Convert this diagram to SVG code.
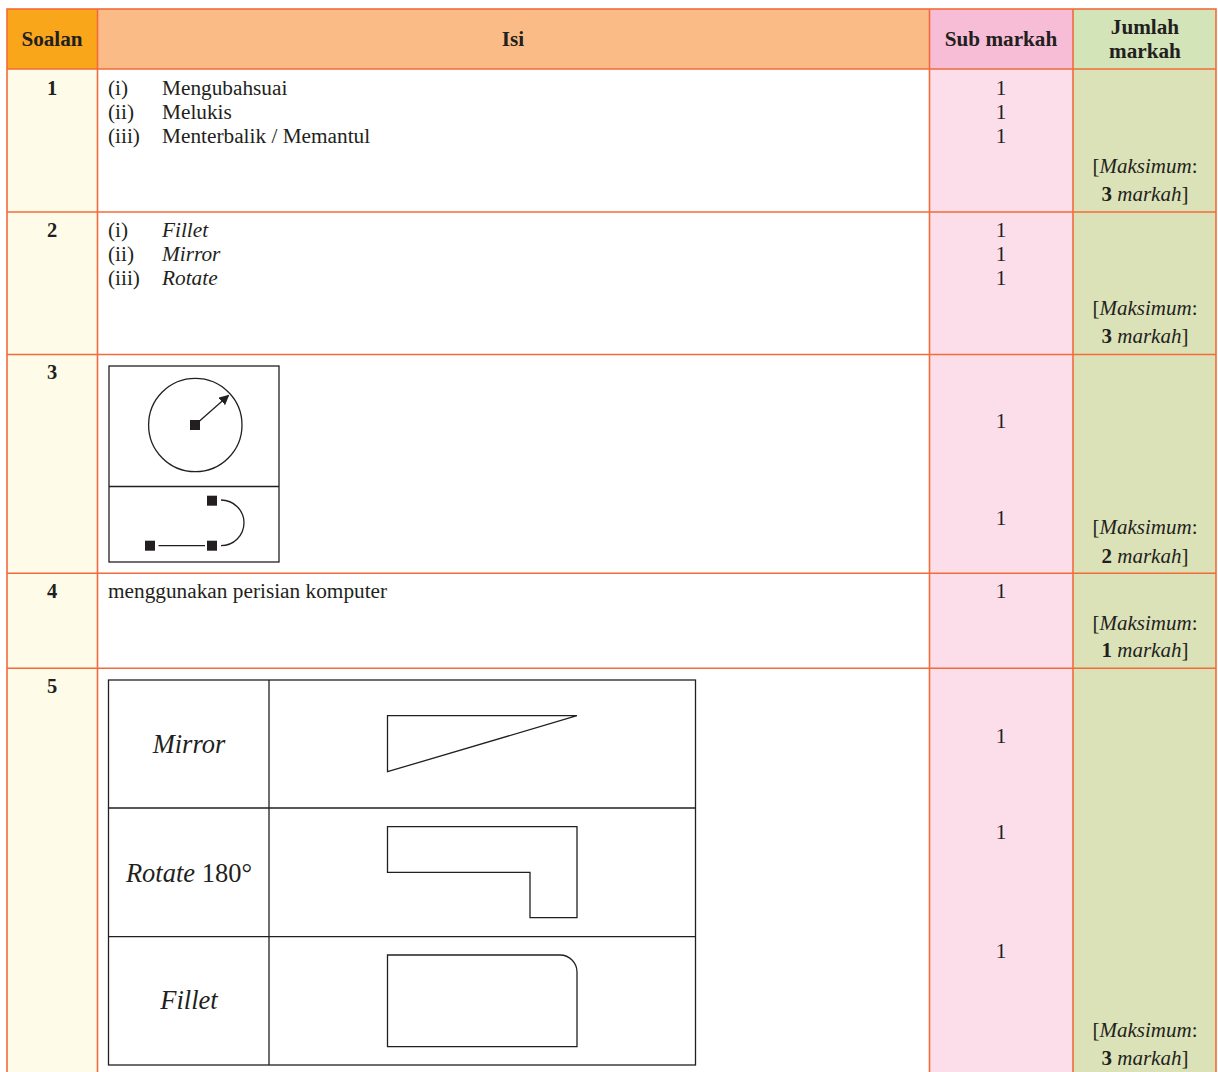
<svg xmlns="http://www.w3.org/2000/svg" width="1218" height="1072" viewBox="0 0 1218 1072">
<style>
.t{font-family:"Liberation Serif","Times New Roman",serif;font-size:21.3px;fill:#231f20}
.m{font-size:21px}
.h{font-family:"Liberation Serif","Times New Roman",serif;font-size:21.2px;font-weight:bold;fill:#231f20}
.n{font-family:"Liberation Serif","Times New Roman",serif;font-size:20.5px;font-weight:bold;fill:#231f20}
.i{font-style:italic}
.b{font-weight:bold}
.c{text-anchor:middle}
.big{font-size:26.5px}
.grid{stroke:#f26b3a;stroke-width:1.6;fill:none}
.ln{stroke:#231f20;stroke-width:1.3;fill:none}
.sq{fill:#231f20}
</style>
<defs>
<marker id="ah" viewBox="0 0 10 10" refX="9" refY="5" markerWidth="10" markerHeight="10" markerUnits="userSpaceOnUse" orient="auto">
<path d="M0,0 L10,5 L0,10 z" fill="#231f20"/>
</marker>
</defs>
<rect width="1218" height="1072" fill="#ffffff"/>
<g id="fills">
<rect x="7" y="9" width="90.5" height="60" fill="#f9a61b"/>
<rect x="97.5" y="9" width="832" height="60" fill="#fbbb87"/>
<rect x="929.5" y="9" width="143.5" height="60" fill="#f7bdd6"/>
<rect x="1073" y="9" width="143" height="60" fill="#d3e4b9"/>
<rect x="7" y="69" width="90.5" height="1010" fill="#fefbe9"/>
<rect x="929.5" y="69" width="143.5" height="1010" fill="#fcdeea"/>
<rect x="1073" y="69" width="143" height="1010" fill="#dce2b8"/>
</g>
<g id="grid">
<rect class="grid" x="7" y="9" width="1209" height="1075"/>
<line class="grid" x1="97.5" y1="9" x2="97.5" y2="1080"/>
<line class="grid" x1="929.5" y1="9" x2="929.5" y2="1080"/>
<line class="grid" x1="1073" y1="9" x2="1073" y2="1080"/>
<line class="grid" x1="7" y1="69" x2="1216" y2="69"/>
<line class="grid" x1="7" y1="212" x2="1216" y2="212"/>
<line class="grid" x1="7" y1="354.5" x2="1216" y2="354.5"/>
<line class="grid" x1="7" y1="573.3" x2="1216" y2="573.3"/>
<line class="grid" x1="7" y1="668.3" x2="1216" y2="668.3"/>
</g>
<g id="header">
<text class="h c" x="52" y="46">Soalan</text>
<text class="h c" x="513" y="46">Isi</text>
<text class="h c" x="1001" y="46">Sub markah</text>
<text class="h c" x="1145" y="34">Jumlah</text>
<text class="h c" x="1145" y="58">markah</text>
</g>
<g id="row1">
<text class="n c" x="52" y="94.5">1</text>
<text class="t" x="108" y="94.5">(i)</text>
<text class="t" x="162" y="94.5">Mengubahsuai</text>
<text class="t" x="108" y="118.5">(ii)</text>
<text class="t" x="162" y="118.5">Melukis</text>
<text class="t" x="108" y="142.5">(iii)</text>
<text class="t" x="162" y="142.5">Menterbalik / Memantul</text>
<text class="t c" x="1001" y="94.5">1</text>
<text class="t c" x="1001" y="118.5">1</text>
<text class="t c" x="1001" y="142.5">1</text>
<text class="t m c" x="1145" y="173">[<tspan class="i">Maksimum</tspan>:</text>
<text class="t m c" x="1145" y="201"><tspan class="b">3</tspan> <tspan class="i">markah</tspan>]</text>
</g>
<g id="row2">
<text class="n c" x="52" y="237">2</text>
<text class="t" x="108" y="237">(i)</text>
<text class="t i" x="162" y="237">Fillet</text>
<text class="t" x="108" y="261">(ii)</text>
<text class="t i" x="162" y="261">Mirror</text>
<text class="t" x="108" y="285">(iii)</text>
<text class="t i" x="162" y="285">Rotate</text>
<text class="t c" x="1001" y="237">1</text>
<text class="t c" x="1001" y="261">1</text>
<text class="t c" x="1001" y="285">1</text>
<text class="t m c" x="1145" y="315">[<tspan class="i">Maksimum</tspan>:</text>
<text class="t m c" x="1145" y="343"><tspan class="b">3</tspan> <tspan class="i">markah</tspan>]</text>
</g>
<g id="row3">
<text class="n c" x="52" y="379">3</text>
<rect class="ln" x="109" y="366" width="170" height="196"/>
<line class="ln" x1="109" y1="486.5" x2="279" y2="486.5"/>
<circle class="ln" cx="195.3" cy="425" r="46.7"/>
<line class="ln" x1="195" y1="425" x2="228.5" y2="395.5" marker-end="url(#ah)"/>
<rect class="sq" x="190" y="420" width="10" height="10"/>
<rect class="sq" x="145" y="540.7" width="10" height="10"/>
<rect class="sq" x="207" y="540.7" width="10" height="10"/>
<rect class="sq" x="207" y="495.7" width="10" height="10"/>
<line class="ln" x1="158.5" y1="545.7" x2="205" y2="545.7"/>
<path class="ln" d="M221,500 A23,22.85 0 0 1 221,545.7"/>
<text class="t c" x="1001" y="428">1</text>
<text class="t c" x="1001" y="525">1</text>
<text class="t m c" x="1145" y="534">[<tspan class="i">Maksimum</tspan>:</text>
<text class="t m c" x="1145" y="563"><tspan class="b">2</tspan> <tspan class="i">markah</tspan>]</text>
</g>
<g id="row4">
<text class="n c" x="52" y="598">4</text>
<text class="t" x="108" y="598">menggunakan perisian komputer</text>
<text class="t c" x="1001" y="598">1</text>
<text class="t m c" x="1145" y="630">[<tspan class="i">Maksimum</tspan>:</text>
<text class="t m c" x="1145" y="657"><tspan class="b">1</tspan> <tspan class="i">markah</tspan>]</text>
</g>
<g id="row5">
<text class="n c" x="52" y="693">5</text>
<rect class="ln" x="108.5" y="680" width="587" height="385"/>
<line class="ln" x1="269" y1="680" x2="269" y2="1065"/>
<line class="ln" x1="108.5" y1="808" x2="695.5" y2="808"/>
<line class="ln" x1="108.5" y1="936.7" x2="695.5" y2="936.7"/>
<text class="t i big c" x="189" y="752.7">Mirror</text>
<text class="t big c" x="189" y="881.7"><tspan class="i">Rotate</tspan> 180°</text>
<text class="t i big c" x="189" y="1009.3">Fillet</text>
<path class="ln" d="M387.5,715.7 L577,715.7 L387.5,771.7 Z"/>
<path class="ln" d="M387.5,826.7 L577,826.7 L577,917.7 L530,917.7 L530,872.3 L387.5,872.3 Z"/>
<path class="ln" d="M387.5,955 L560,955 A17,17 0 0 1 577,972 L577,1046.7 L387.5,1046.7 Z"/>
<text class="t c" x="1001" y="743">1</text>
<text class="t c" x="1001" y="839">1</text>
<text class="t c" x="1001" y="958">1</text>
<text class="t m c" x="1145" y="1037">[<tspan class="i">Maksimum</tspan>:</text>
<text class="t m c" x="1145" y="1065"><tspan class="b">3</tspan> <tspan class="i">markah</tspan>]</text>
</g>
</svg>
